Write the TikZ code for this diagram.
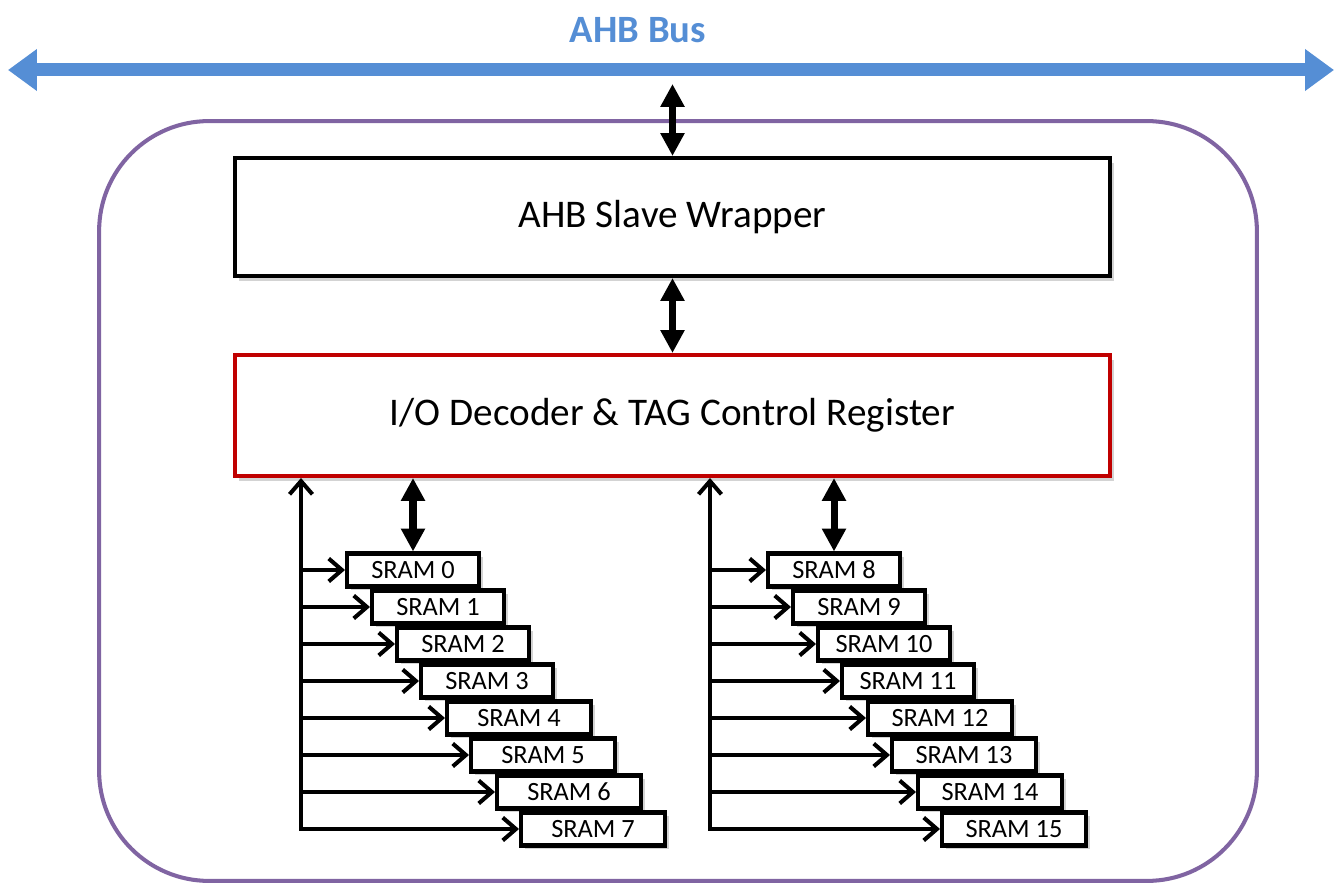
\documentclass[tikz,border=0pt]{standalone}
\usepackage{fontspec}
\setmainfont{Carlito}
\usetikzlibrary{arrows.meta,positioning,shadows}
\definecolor{busblue}{RGB}{85,142,213}
\definecolor{chippurple}{RGB}{128,100,162}
\definecolor{decred}{RGB}{192,0,0}
\tikzstyle{chip} = [rectangle, draw=chippurple, line width=2.3pt, rounded corners=2.2cm, minimum width=23.16cm, minimum height=15.2cm]
\tikzstyle{block} = [rectangle, draw, line width=2.3pt, fill=white, minimum width=17.5cm, minimum height=2.36cm, font=\fontsize{22.3}{26}\selectfont, drop shadow={opacity=0.35, shadow xshift=2.5pt, shadow yshift=-3pt}]
\tikzstyle{sram} = [rectangle, draw, line width=2.3pt, fill=white, minimum width=2.64cm, minimum height=0.66cm, inner sep=0pt, font=\fontsize{15}{17}\selectfont, drop shadow={opacity=0.35, shadow xshift=2.5pt, shadow yshift=-2pt}]
\tikzstyle{widesram} = [sram, minimum width=2.88cm]
\tikzstyle{bus} = [{Triangle[length=16.5pt,width=22.8pt]}-{Triangle[length=16.5pt,width=22.8pt]}, busblue, line width=7.4pt]
\tikzstyle{dbl} = [{Triangle[length=13pt,width=13pt]}-{Triangle[length=13pt,width=13pt]}, line width=4pt]
\tikzstyle{feed} = [-{Straight Barb[length=7.5pt,width=13pt]}, line width=2.3pt]
\tikzstyle{feedup} = [{Straight Barb[length=7.5pt,width=13pt]}-{Straight Barb[length=7.5pt,width=13pt]}, line width=2.3pt]

\begin{document}
\begin{tikzpicture}[x=0.02cm, y=-0.02cm]
  \useasboundingbox (0,0) rectangle (1336,885);

  % bus
  \coordinate (busl) at (8,70);
  \coordinate (busr) at (1334,70);
  \coordinate (tap) at (672.5,84);
  \node[font=\fontsize{22}{26}\selectfont\bfseries, text=busblue] (buslbl) at (638,30) {AHB Bus};
  \draw[bus] (busl) -- (busr);

  % controller
  \node[chip] (chip) at (678,501) {};
  \node[block] (wrap) at (672.5,217) {AHB Slave Wrapper};
  \node[block, draw=decred, minimum height=2.42cm] (dec) at (672.5,415.5) {I/O Decoder \& TAG Control Register};

  \draw[dbl] (wrap.north) -- (tap);
  \draw[dbl] (wrap.south) -- (dec.north);

  % left bank
  \node[sram, anchor=west] (s0) at (345,570) {SRAM 0};
  \node[sram, anchor=west] (s1) at ([shift={(25,37)}]s0.west) {SRAM 1};
  \node[sram, anchor=west] (s2) at ([shift={(25,37)}]s1.west) {SRAM 2};
  \node[sram, anchor=west] (s3) at ([shift={(24,37)}]s2.west) {SRAM 3};
  \node[widesram, anchor=west] (s4) at ([shift={(26,37)}]s3.west) {SRAM 4};
  \node[widesram, anchor=west] (s5) at ([shift={(24,37)}]s4.west) {SRAM 5};
  \node[widesram, anchor=west] (s6) at ([shift={(26,37)}]s5.west) {SRAM 6};
  \node[widesram, anchor=west] (s7) at ([shift={(24,37)}]s6.west) {SRAM 7};

  % right bank
  \node[sram, anchor=west] (s8) at (766,570) {SRAM 8};
  \node[sram, anchor=west] (s9) at ([shift={(25,37)}]s8.west) {SRAM 9};
  \node[sram, anchor=west] (s10) at ([shift={(25,37)}]s9.west) {SRAM 10};
  \node[sram, anchor=west] (s11) at ([shift={(24,37)}]s10.west) {SRAM 11};
  \node[widesram, anchor=west] (s12) at ([shift={(26,37)}]s11.west) {SRAM 12};
  \node[widesram, anchor=west] (s13) at ([shift={(24,37)}]s12.west) {SRAM 13};
  \node[widesram, anchor=west] (s14) at ([shift={(26,37)}]s13.west) {SRAM 14};
  \node[widesram, anchor=west] (s15) at ([shift={(24,37)}]s14.west) {SRAM 15};

  \draw[dbl] (s0.north) -- (s0.north |- dec.south);
  \draw[dbl] (s8.north) -- (s8.north |- dec.south);

  % select lines
  \coordinate (lrail) at (301,829);
  \coordinate (rrail) at (710,829);
  \draw[feedup] (s7.west) -- (lrail |- s7.west) -- (lrail |- dec.south);
  \draw[feed] (lrail |- s0.west) -- (s0.west);
  \draw[feed] (lrail |- s1.west) -- (s1.west);
  \draw[feed] (lrail |- s2.west) -- (s2.west);
  \draw[feed] (lrail |- s3.west) -- (s3.west);
  \draw[feed] (lrail |- s4.west) -- (s4.west);
  \draw[feed] (lrail |- s5.west) -- (s5.west);
  \draw[feed] (lrail |- s6.west) -- (s6.west);

  \draw[feedup] (s15.west) -- (rrail |- s15.west) -- (rrail |- dec.south);
  \draw[feed] (rrail |- s8.west) -- (s8.west);
  \draw[feed] (rrail |- s9.west) -- (s9.west);
  \draw[feed] (rrail |- s10.west) -- (s10.west);
  \draw[feed] (rrail |- s11.west) -- (s11.west);
  \draw[feed] (rrail |- s12.west) -- (s12.west);
  \draw[feed] (rrail |- s13.west) -- (s13.west);
  \draw[feed] (rrail |- s14.west) -- (s14.west);
\end{tikzpicture}
\end{document}
